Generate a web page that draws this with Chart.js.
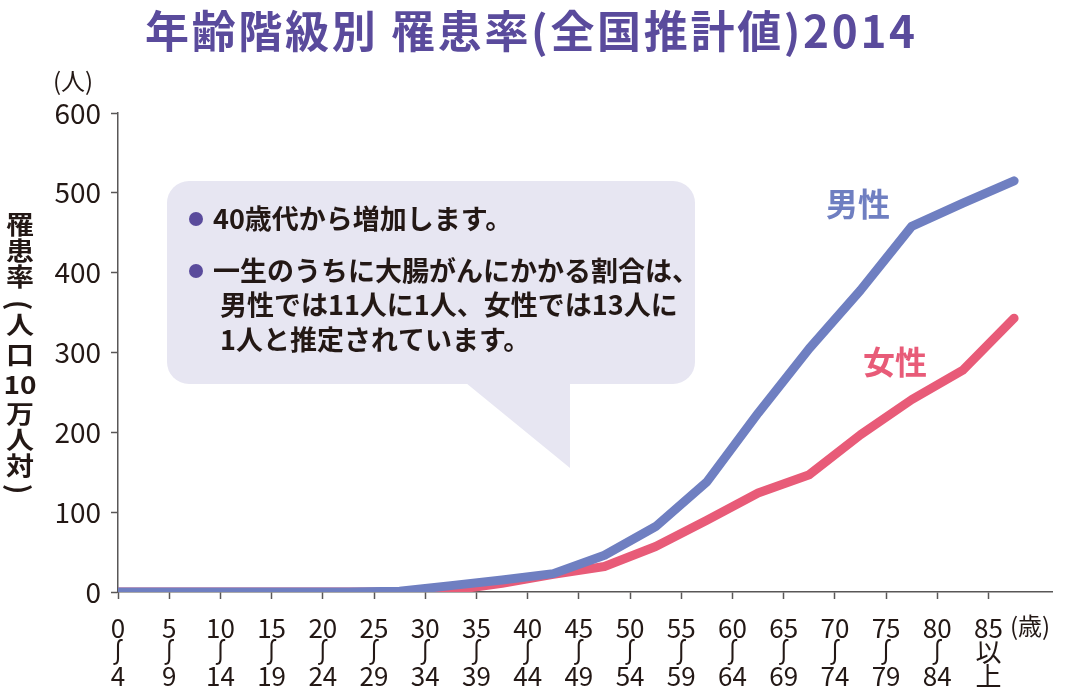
<!DOCTYPE html>
<html><head><meta charset="utf-8">
<script src="https://cdn.jsdelivr.net/npm/chart.js@4"></script>
<style>html,body{margin:0;padding:0;background:#fff;}#wrap{width:1065px;height:694px;position:relative;}</style>
</head><body><div id="wrap"><canvas id="c" width="1065" height="694"></canvas></div>
<script>
// ---- data ----
const ageGroups = ['0~4','5~9','10~14','15~19','20~24','25~29','30~34','35~39','40~44','45~49','50~54','55~59','60~64','65~69','70~74','75~79','80~84','85以上'];
const tickStarts = [0,5,10,15,20,25,30,35,40,45,50,55,60,65,70,75,80,85];
const tickEnds = ['4','9','14','19','24','29','34','39','44','49','54','59','64','69','74','79','84','以上'];
// plotted age of each group (mid-point of the 5-year band; the first group starts at the axis)
const pointAges = [0,7.5,12.5,17.5,22.5,27.5,32.5,37.5,42.5,47.5,52.5,57.5,62.5,67.5,72.5,77.5,82.5,87.5];
const maleRate = [0,0,0,0,0,1,8,15,23,46,82,138,224,305,378,458,487,515];
const femaleRate = [0,0,0,0,0,0,2,11,22,32,57,90,124,147,197,241,278,343];
const yTicks = [0,100,200,300,400,500,600];

const titleText = '年齢階級別 罹患率(全国推計値)2014';
const noteLines = ['40歳代から増加します。','一生のうちに大腸がんにかかる割合は、','男性では11人に1人、女性では13人に','1人と推定されています。'];
const yTitleChars = ['罹','患','率','(','人','口','10','万','人','対',')'];

const MALE = '#6f7fc1', FEMALE = '#e85b78', PURPLE = '#5a4b9c', TXT = '#231815', AXIS = '#595757', BOX = '#e7e6f2';
const FF = "'Noto Sans CJK JP','Noto Sans',sans-serif";

const overlay = {
  id:'overlay',
  beforeDatasetsDraw(chart){
    const c = chart.ctx; c.save();
    c.fillStyle = BOX;
    c.beginPath(); c.roundRect(167,181,528,203,22); c.fill();
    c.beginPath(); c.moveTo(466,383); c.lineTo(570,383); c.lineTo(570,468); c.closePath(); c.fill();
    c.fillStyle = PURPLE;
    [219,271].forEach(y=>{c.beginPath(); c.arc(196,y,7,0,Math.PI*2); c.fill();});
    c.fillStyle = TXT; c.font = 'bold 27px '+FF; c.textBaseline='middle'; c.textAlign='left';
    c.fillText(noteLines[0],213,219);
    c.fillText(noteLines[1],213,271);
    c.fillText(noteLines[2],220,305);
    c.fillText(noteLines[3],220,340);
    c.restore();
  },
  afterDraw(chart){
    const c = chart.ctx; c.save();
    // title
    c.font = 'bold 44px '+FF; c.fillStyle = PURPLE; c.textBaseline='middle'; c.textAlign='left';
    c.letterSpacing='0px';
    const w0 = c.measureText(titleText).width;
    const n = [...titleText].length;
    c.letterSpacing = Math.max(0,(770-w0)/(n-1))+'px';
    c.fillText(titleText,145,31);
    c.letterSpacing='0px';
    // unit labels
    c.fillStyle = TXT; c.font = '24px '+FF; c.textAlign='center';
    c.fillText('(人)',73,81);
    c.fillText('(歳)',1030,626);
    // series labels
    c.font = 'bold 32px '+FF;
    c.fillStyle = MALE; c.fillText('男性',858,204);
    c.fillStyle = FEMALE; c.fillText('女性',895,362);
    // vertical y-axis title
    c.fillStyle = TXT; c.font = '600 28px '+FF;
    const pos = [225,251,277,305,325,355,385,414,440,466,489];
    yTitleChars.forEach((ch,i)=>{
      c.save(); c.translate(20,pos[i]);
      if(ch==='('||ch===')'){ c.rotate(Math.PI/2); c.fillText(ch,0,0); }
      else { c.scale(1,0.88); c.fillText(ch,0,0); }
      c.restore();
    });
    c.restore();
  }
};

new Chart(document.getElementById('c'),{
  type:'line',
  data:{datasets:[
    {label:'男性',data:pointAges.map((a,i)=>({x:a,y:maleRate[i]})),borderColor:MALE,borderWidth:9,pointRadius:0,borderCapStyle:'round',borderJoinStyle:'round',tension:0,fill:false},
    {label:'女性',data:pointAges.map((a,i)=>({x:a,y:femaleRate[i]})),borderColor:FEMALE,borderWidth:9,pointRadius:0,borderCapStyle:'round',borderJoinStyle:'round',tension:0,fill:false}
  ]},
  options:{
    responsive:false,animation:false,
    layout:{padding:{top:113,right:13,bottom:0,left:0}},
    plugins:{legend:{display:false},tooltip:{enabled:false},title:{display:false}},
    scales:{
      x:{type:'linear',min:0,max:91.2,
        afterBuildTicks:s=>{s.ticks = tickStarts.map(v=>({value:v}));},
        afterFit:s=>{s.height=102;},
        grid:{display:true,drawOnChartArea:false,drawTicks:true,tickLength:7,color:AXIS,tickColor:AXIS,tickWidth:1.5},
        border:{display:true,color:AXIS,width:1.5},
        ticks:{autoSkip:false,maxRotation:0,minRotation:0,padding:17,color:TXT,font:{family:FF,size:26,lineHeight:0.92},
          callback:(v)=>{const i=tickStarts.indexOf(v); const e=tickEnds[i]; return e==='以上'?[String(v),'以','上']:[String(v),'∫',e];}}
      },
      y:{min:0,max:600,
        afterBuildTicks:s=>{s.ticks = yTicks.map(v=>({value:v}));},
        afterFit:s=>{s.width=118;},
        grid:{display:true,drawOnChartArea:false,drawTicks:true,tickLength:7,color:AXIS,tickColor:AXIS,tickWidth:1.5},
        border:{display:true,color:AXIS,width:1.5},
        ticks:{padding:10,color:TXT,font:{family:FF,size:28}}
      }
    }
  },
  plugins:[overlay]
});
</script></body></html>
